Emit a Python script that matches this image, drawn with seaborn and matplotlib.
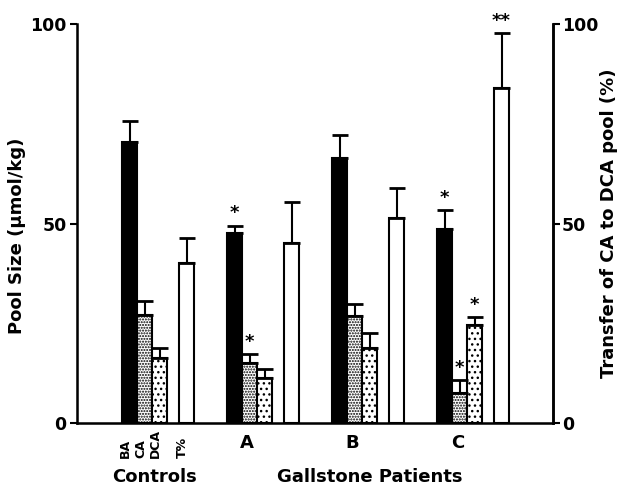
import numpy as np
import pandas as pd
import matplotlib
matplotlib.use('Agg')
import matplotlib.pyplot as plt
import seaborn as sns

GROUPS = ["Controls", "A", "B", "C"]
MEASURES = ["BA", "CA", "DCA", "T%"]

# pool sizes (umol/kg) and transfer (%), per group
BA = [70.5, 47.5, 66.5, 48.5]
CA = [27.0, 15.0, 26.7, 7.5]
DCA = [16.3, 11.3, 18.7, 24.5]
TPCT = [40.0, 45.0, 51.3, 84.0]

BA_ERR = [5.3, 2.0, 5.8, 4.8]
CA_ERR = [3.7, 2.3, 3.2, 3.2]
DCA_ERR = [2.5, 2.3, 3.8, 2.0]
TPCT_ERR = [6.3, 10.3, 7.5, 13.8]

# significance marks: (group, measure, text)
STARS = [("A", "BA", "*"), ("A", "CA", "*"),
         ("C", "BA", "*"), ("C", "CA", "*"), ("C", "DCA", "*"),
         ("C", "T%", "**")]

values = {"BA": BA, "CA": CA, "DCA": DCA, "T%": TPCT}
errors = {"BA": BA_ERR, "CA": CA_ERR, "DCA": DCA_ERR, "T%": TPCT_ERR}
offset = {"BA": 0.0, "CA": 1.0, "DCA": 2.0, "T%": 3.8}
GROUP_STEP = 7.0

rows = []
for gi, g in enumerate(GROUPS):
    for m in MEASURES:
        rows.append({"group": g, "measure": m,
                     "x": gi * GROUP_STEP + offset[m],
                     "value": values[m][gi], "err": errors[m][gi]})
df = pd.DataFrame(rows)

sns.set_style("ticks")
plt.rcParams['font.family'] = ['DejaVu Sans']
plt.rcParams['font.weight'] = 'bold'
plt.rcParams['hatch.linewidth'] = 1.0
for k in ['text.color', 'axes.labelcolor', 'xtick.color', 'ytick.color',
          'axes.edgecolor']:
    plt.rcParams[k] = 'black'

fig = plt.figure(figsize=(6.18, 4.86), dpi=100)
ax = fig.add_axes([0.1246, 0.1296, 0.7702, 0.821])

palette = {"BA": "black", "CA": "white", "DCA": "white", "T%": "white"}
sns.barplot(data=df, x="x", y="value", hue="measure", palette=palette,
            native_scale=True, dodge=False, width=1.0, errorbar=None,
            edgecolor="black", linewidth=1.5, legend=False, ax=ax)

hatches = {"BA": None, "CA": "......", "DCA": "...", "T%": None}
for cont, m in zip(ax.containers, MEASURES):
    for bar in cont:
        if hatches[m]:
            bar.set_hatch(hatches[m])

ax.errorbar(df["x"], df["value"], yerr=[np.zeros(len(df)), df["err"]],
            fmt="none", ecolor="black", elinewidth=1.5, capsize=5.5, capthick=2)

for g, m, txt in STARS:
    r = df[(df.group == g) & (df.measure == m)].iloc[0]
    ax.text(r.x, r.value + r.err + 0.8, txt, ha="center", va="bottom",
            fontsize=13, fontweight="bold")

ax.set_xlim(-3.5, 28.23)
ax.set_ylim(0, 100)
ax.set_xticks([])
ax.set_xlabel("")
ax.set_yticks([0, 50, 100])
ax.tick_params(axis="y", length=5, width=1.5, labelsize=12.5, pad=2.5)
ax.set_ylabel("Pool Size (µmol/kg)", fontsize=13, fontweight="bold")
ax.yaxis.set_label_coords(-0.107, 0.47)
for s in ["left", "bottom", "right"]:
    ax.spines[s].set_linewidth(1.8)
ax.spines["top"].set_visible(False)

ax2 = ax.twinx()
ax2.set_ylim(0, 100)
ax2.set_yticks([0, 50, 100])
ax2.tick_params(axis="y", length=5, width=1.5, labelsize=12.5, pad=1.5)
ax2.set_ylabel("Transfer of CA to DCA pool (%)", fontsize=13, fontweight="bold")
ax2.yaxis.set_label_coords(1.099, 0.5)
ax2.spines["top"].set_visible(False)
ax2.spines["right"].set_linewidth(1.8)

trans = ax.get_xaxis_transform()
for m in MEASURES:
    ax.text(offset[m] - 0.25, -0.087, m, rotation=90, ha="center", va="bottom",
            fontsize=9, fontweight="bold", transform=trans)
for gi, g in enumerate(GROUPS[1:], start=1):
    ax.text(gi * GROUP_STEP + 0.85, -0.063, g, ha="center", va="baseline",
            fontsize=13, fontweight="bold", transform=trans)
ax.text(1.65, -0.148, "Controls", ha="center", va="baseline",
        fontsize=13, fontweight="bold", transform=trans)
ax.text(16.0, -0.148, "Gallstone Patients", ha="center", va="baseline",
        fontsize=13, fontweight="bold", transform=trans)

fig.savefig("out.png", dpi=100)
